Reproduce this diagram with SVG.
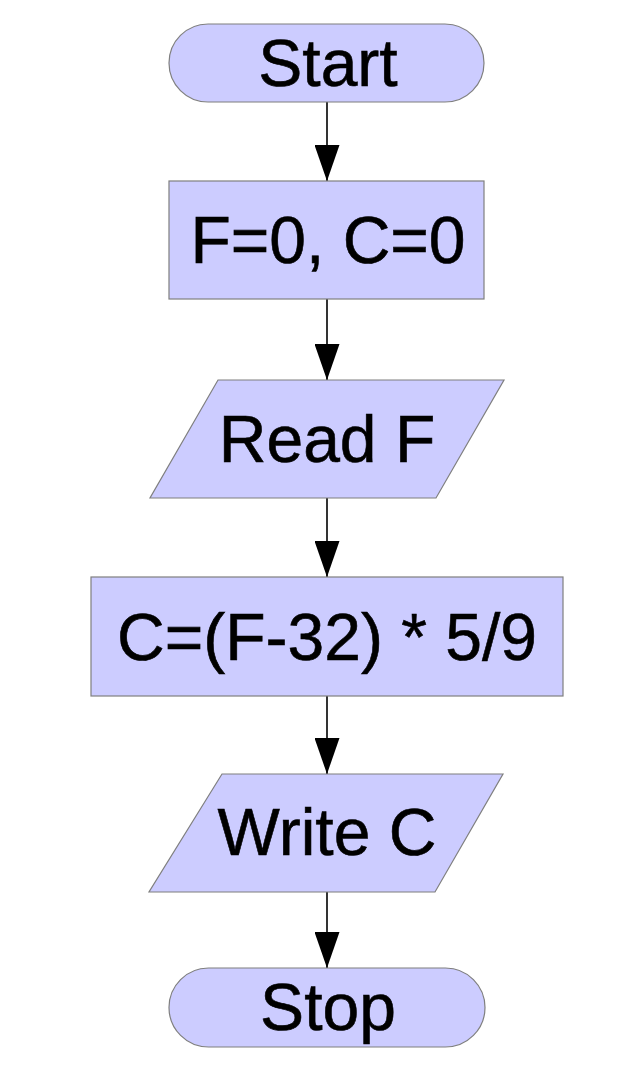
<svg xmlns="http://www.w3.org/2000/svg" width="624" height="1078" viewBox="0 0 624 1078">
<defs>
<style>
.shape{fill:#ccccff;stroke:#7f7f7f;stroke-width:1.2}
.lbl{font-family:"Liberation Sans",Arial,sans-serif;font-size:66px;fill:#000;stroke:#000;stroke-width:0.6;text-anchor:middle}
.conn{stroke:#000;stroke-width:1.6;fill:none}
</style>
<marker id="arrow" markerUnits="userSpaceOnUse" markerWidth="36" markerHeight="25" refX="36" refY="12.5" orient="auto" viewBox="0 0 36 25">
<path d="M0,0 L36,12.5 L0,25 Z" fill="#000"/>
</marker>
</defs>
<rect width="624" height="1078" fill="#fff"/>
<g id="connectors">
<line class="conn" x1="327" y1="102" x2="327" y2="181" marker-end="url(#arrow)"/>
<line class="conn" x1="327" y1="299" x2="327" y2="380" marker-end="url(#arrow)"/>
<line class="conn" x1="327" y1="498" x2="327" y2="577" marker-end="url(#arrow)"/>
<line class="conn" x1="327" y1="696" x2="327" y2="774" marker-end="url(#arrow)"/>
<line class="conn" x1="327" y1="892" x2="327" y2="968" marker-end="url(#arrow)"/>
</g>
<g id="start">
<rect class="shape" x="169" y="24" width="315" height="78" rx="39" ry="39"/>
<text class="lbl" x="328" y="86">Start</text>
</g>
<g id="init">
<rect class="shape" x="169" y="181" width="315" height="118"/>
<text class="lbl" x="328" y="263">F=0, C=0</text>
</g>
<g id="read">
<polygon class="shape" points="218,380 504,380 436,498 150,498"/>
<text class="lbl" x="327" y="462">Read F</text>
</g>
<g id="compute">
<rect class="shape" x="91" y="577" width="472" height="119"/>
<text class="lbl" x="327" y="660">C=(F-32) * 5/9</text>
</g>
<g id="write">
<polygon class="shape" points="222,774 503,774 435,892 149,892"/>
<text class="lbl" x="327" y="855">Write C</text>
</g>
<g id="stop">
<rect class="shape" x="169" y="968" width="316" height="79" rx="39.5" ry="39.5"/>
<text class="lbl" x="328" y="1030">Stop</text>
</g>
</svg>
